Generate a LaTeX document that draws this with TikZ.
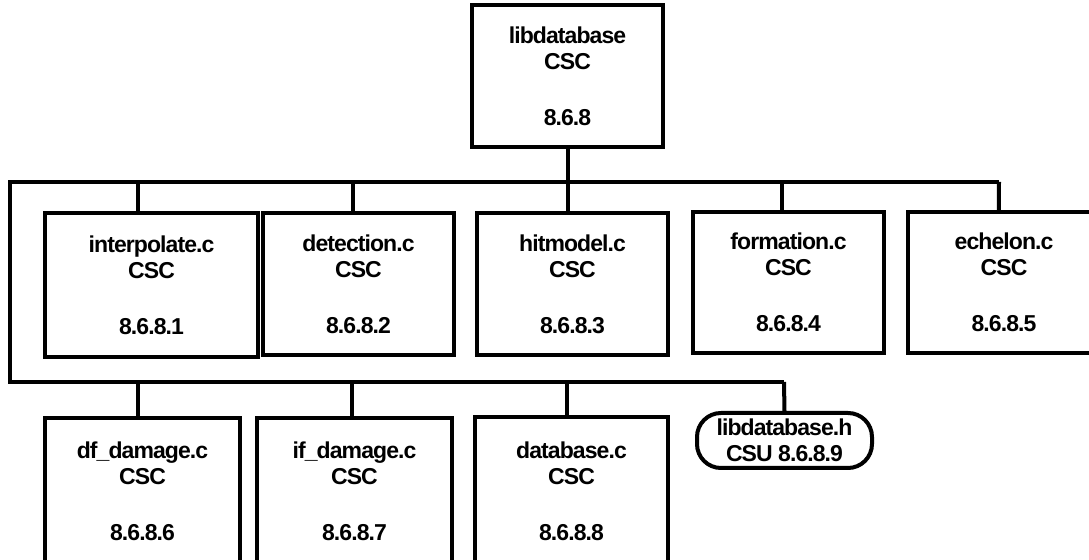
\documentclass[tikz,border=0pt]{standalone}
\usepackage{fontspec}
\setmainfont[LetterSpace=-4]{Liberation Sans}
\usetikzlibrary{calc}
\begin{document}
\begin{tikzpicture}[x=0.5pt,y=-0.5pt,
  every path/.style={line width=2pt},
  txt/.style={align=center, inner sep=0pt, font=\bfseries\fontsize{11.5}{13}\selectfont},
  csc/.style={txt, draw, line width=2pt, rectangle},
  csu/.style={txt, draw, line width=2pt, rectangle, rounded corners=12pt}]
\useasboundingbox (0,0) rectangle (1089,560);
% nodes
\node[csc, minimum width=95.5pt, minimum height=71pt] (top) at (567.5,76) {libdatabase\\CSC\\[15pt]8.6.8};
\node[csc, minimum width=106.5pt, minimum height=72pt] (interp) at (151.5,285) {interpolate.c\\CSC\\[15pt]8.6.8.1};
\node[csc, minimum width=95.5pt, minimum height=71pt] (detect) at (358.5,284) {detection.c\\CSC\\[15pt]8.6.8.2};
\node[csc, minimum width=95.5pt, minimum height=71pt] (hit) at (572.5,284) {hitmodel.c\\CSC\\[15pt]8.6.8.3};
\node[csc, minimum width=95.5pt, minimum height=70.5pt] (form) at (788.5,282.5) {formation.c\\CSC\\[15pt]8.6.8.4};
\node[csc, minimum width=96pt, minimum height=70.5pt] (ech) at (1004,282.5) {echelon.c\\CSC\\[15pt]8.6.8.5};
\node[csc, minimum width=97.5pt, minimum height=73.5pt] (df) at (142.5,491.5) {df\_damage.c\\CSC\\[15pt]8.6.8.6};
\node[csc, minimum width=97.5pt, minimum height=73.5pt] (if) at (354.5,491.5) {if\_damage.c\\CSC\\[15pt]8.6.8.7};
\node[csc, minimum width=96.5pt, minimum height=74pt] (db) at (571.5,491) {database.c\\CSC\\[15pt]8.6.8.8};
\node[csu, minimum width=87.5pt, minimum height=27.5pt] (libh) at (784.5,440.5) {libdatabase.h\\CSU 8.6.8.9};
% bus coordinates
\coordinate (b1L) at (10,182);
\coordinate (b1R) at (999,182);
\coordinate (b2L) at (10,382);
\coordinate (b2R) at (784,382);
% buses
\draw (b1R) -- (b1L) -- (b2L) -- (b2R);
% drop points
\path ($(interp.north west)!0.44!(interp.north east)$) coordinate (dI);
\path ($(detect.north west)!0.47!(detect.north east)$) coordinate (dD);
\path ($(hit.north west)!0.477!(hit.north east)$) coordinate (dH);
\path ($(form.north west)!0.466!(form.north east)$) coordinate (dF);
\path ($(ech.north west)!0.474!(ech.north east)$) coordinate (dE);
\path ($(df.north west)!0.477!(df.north east)$) coordinate (dDF);
\path ($(if.north west)!0.487!(if.north east)$) coordinate (dIF);
\path ($(db.north west)!0.477!(db.north east)$) coordinate (dDB);
% connectors
\draw (top.south) -- (top.south |- b1L);
\draw (dI) -- (dI |- b1L);
\draw (dD) -- (dD |- b1L);
\draw (dH) -- (dH |- b1L);
\draw (dF) -- (dF |- b1L);
\draw (dE) -- (b1R);
\draw (dDF) -- (dDF |- b2L);
\draw (dIF) -- (dIF |- b2L);
\draw (dDB) -- (dDB |- b2L);
\draw (libh.north) -- (b2R);
\end{tikzpicture}
\end{document}
